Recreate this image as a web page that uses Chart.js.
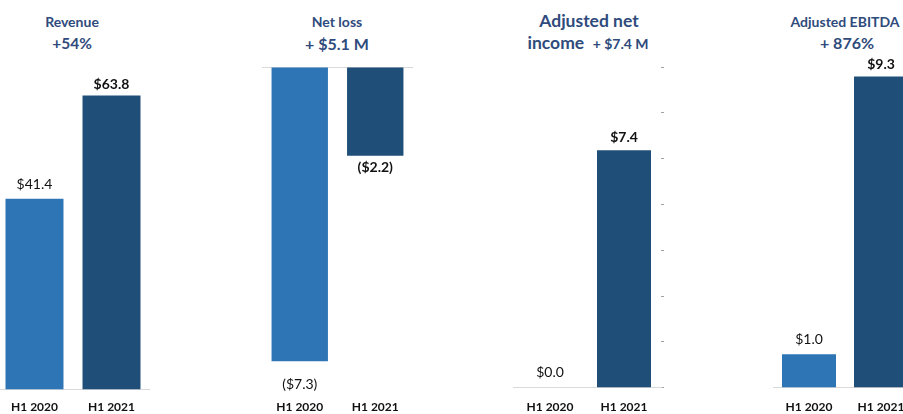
<!DOCTYPE html>
<html><head><meta charset="utf-8">
<script src="https://cdn.jsdelivr.net/npm/chart.js@4.4.1/dist/chart.umd.min.js"></script>
<style>
html,body{margin:0;padding:0;width:903px;height:414px;overflow:hidden;background:#fff;position:relative;font-family:Lato,"Open Sans",sans-serif;}
canvas{position:absolute;top:0;}
.t{position:absolute;transform:translate(-50%,-50%);white-space:nowrap;color:#2F4B7C;font-weight:700;line-height:1;text-align:center;}
</style></head><body>
<script>
// ---- data ----
const categories = ['H1 2020', 'H1 2021'];
const revenue = [41.4, 63.8];
const netLoss = [-7.3, -2.2];
const adjNetIncome = [0.0, 7.4];
const adjEbitda = [1.0, 9.3];
const titleRevenue = ['Revenue', '+54%'];
const titleNetLoss = ['Net loss', '+ $5.1 M'];
const titleAdjNet = ['Adjusted net', 'income', '+ $7.4 M'];
const titleEbitda = ['Adjusted EBITDA', '+ 876%'];

const LIGHT = '#2E75B6', DARK = '#1F4E79', AXIS = '#D9D9D9', FONT = 'Lato, "Open Sans", sans-serif';

function fmt(v) { return v < 0 ? '($' + Math.abs(v).toFixed(1) + ')' : '$' + v.toFixed(1); }

// titles as HTML text
function addTitle(text, x, y, size) {
  const d = document.createElement('div');
  d.className = 't';
  d.style.left = x + 'px'; d.style.top = y + 'px'; d.style.fontSize = size + 'px';
  d.innerHTML = text;
  document.body.appendChild(d);
}
addTitle(titleRevenue[0], 72, 22, 14);
addTitle(titleRevenue[1], 72, 44, 15.5);
addTitle(titleNetLoss[0], 337, 22, 14);
addTitle(titleNetLoss[1], 337, 44, 16);
addTitle(titleAdjNet[0], 589, 21, 17.5);
addTitle(titleAdjNet[1] + '&nbsp;&nbsp;<span style="font-size:14px">' + titleAdjNet[2] + '</span>', 588, 43, 17.5);
addTitle(titleEbitda[0], 845, 22, 14);
addTitle(titleEbitda[1], 847, 43, 16);

const valueLabels = {
  id: 'valueLabels',
  afterDatasetsDraw(chart, args, opts) {
    const ctx = chart.ctx;
    const meta = chart.getDatasetMeta(0);
    const data = chart.data.datasets[0].data;
    ctx.save();
    ctx.textAlign = 'center';
    ctx.textBaseline = 'middle';
    ctx.fillStyle = '#111';
    meta.data.forEach((bar, i) => {
      const v = data[i];
      ctx.font = (i === 1 ? 'bold ' : '') + '14px ' + FONT;
      const off = opts.offsets[i];
      const y = v < 0 ? bar.y + off : bar.y - off;
      ctx.fillText(fmt(v), bar.x, y);
    });
    ctx.restore();
  }
};

function makePanel(p) {
  const c = document.createElement('canvas');
  c.width = p.width; c.height = 430;
  c.style.left = p.left + 'px';
  c.style.width = p.width + 'px'; c.style.height = '430px';
  document.body.appendChild(c);
  const scales = {
    x: {
      grid: { display: false, drawTicks: false },
      border: { display: p.baseline, color: AXIS, width: 1 },
      ticks: { padding: p.tickPad, color: '#111', font: { family: FONT, size: 12, weight: 'bold' }, maxRotation: 0 }
    },
    y: {
      display: p.zeroLine ? true : false,
      min: p.min, max: p.max,
      ticks: { display: false },
      border: { display: false },
      grid: {
        drawTicks: false,
        color: (ctx) => (ctx.tick && ctx.tick.value === 0) ? AXIS : 'rgba(0,0,0,0)'
      }
    }
  };
  if (p.rightTicks) {
    scales.y2 = {
      position: 'right', min: 0, max: 7,
      ticks: { display: false, stepSize: 1 },
      border: { display: false },
      grid: { drawOnChartArea: false, drawTicks: true, tickLength: 3, color: '#A0A0A0' }
    };
  }
  new Chart(c, {
    type: 'bar',
    data: {
      labels: categories,
      datasets: [{ data: p.data, backgroundColor: [LIGHT, DARK], borderWidth: 0,
        barPercentage: p.barPct, categoryPercentage: 1 }]
    },
    options: {
      responsive: false, animation: false, devicePixelRatio: 1,
      layout: { padding: { top: p.padTop, bottom: p.padBottom, left: 0, right: 0 } },
      plugins: { legend: { display: false }, tooltip: { enabled: false }, valueLabels: { offsets: p.offsets } },
      scales
    },
    plugins: [valueLabels]
  });
}

makePanel({ data: revenue, left: -4, width: 154, padTop: 67, padBottom: 6, tickPad: 10, min: 0, max: 70,
  baseline: true, zeroLine: false, barPct: 0.753, offsets: [14, 11] });
makePanel({ data: netLoss, left: 262, width: 151, padTop: 67, padBottom: 6, tickPad: 10, min: -8, max: 0,
  baseline: false, zeroLine: true, barPct: 0.747, offsets: [23, 12] });
makePanel({ data: adjNetIncome, left: 513, width: 151, padTop: 67, padBottom: 4, tickPad: 12, min: 0, max: 10,
  baseline: true, zeroLine: false, barPct: 0.73, rightTicks: true, offsets: [15, 13] });
makePanel({ data: adjEbitda, left: 773, width: 144, padTop: 53, padBottom: 4, tickPad: 12, min: 0, max: 10,
  baseline: true, zeroLine: false, barPct: 0.75, offsets: [15, 12] });
</script>
</body></html>
